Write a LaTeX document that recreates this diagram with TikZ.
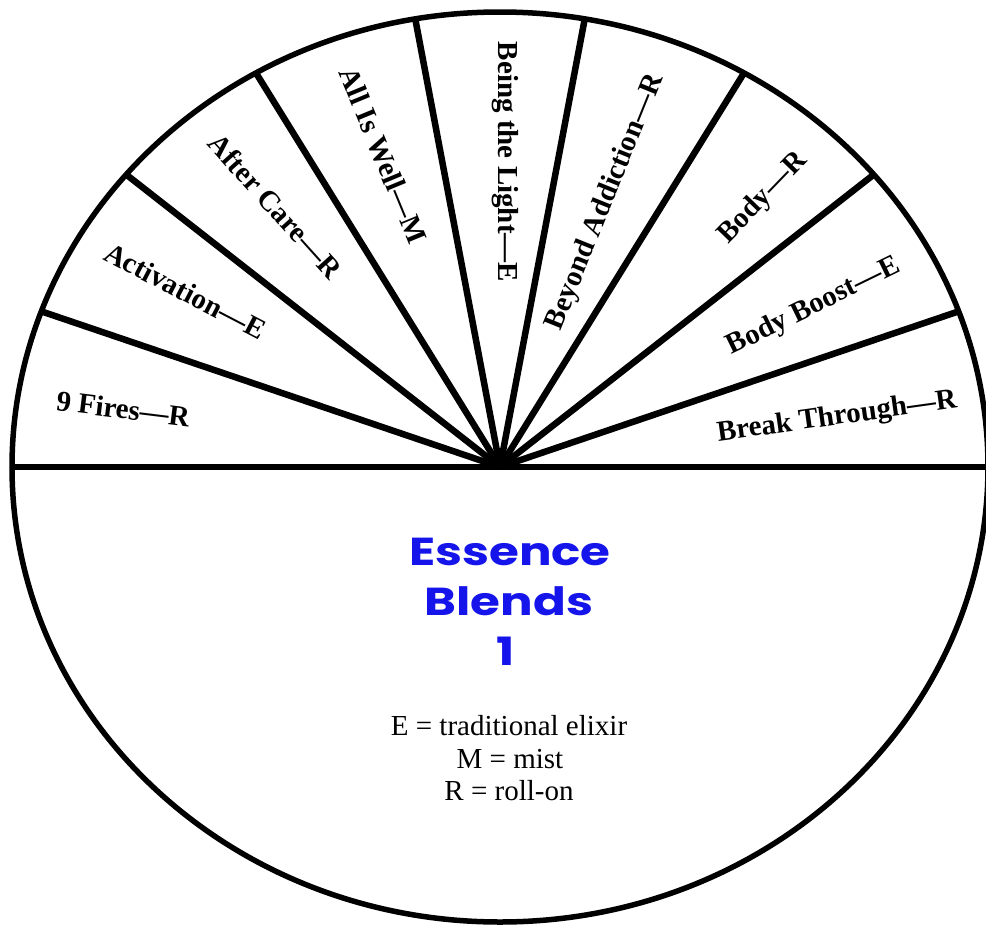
\documentclass[tikz,border=0pt]{standalone}
\usepackage{fontspec}
\setmainfont{Liberation Serif}
\newfontfamily\titlefont{Poppins}
\definecolor{titleblue}{RGB}{20,20,235}
\begin{document}
\begin{tikzpicture}[x=1pt,y=-1pt,
  rim/.style={line width=5.5pt},
  spoke/.style={line width=6.5pt},
  lbl/.style={font=\bfseries\fontsize{29}{33}\selectfont, anchor=base, inner sep=0pt},
  titletxt/.style={font=\titlefont\bfseries\fontsize{39}{50}\selectfont, text=titleblue, anchor=base, inner sep=0pt, xscale=1.24},
  legend/.style={font=\fontsize{29}{33}\selectfont, anchor=base, inner sep=0pt}]
\useasboundingbox (0,0) rectangle (986,926);
\fill[white] (0,0) rectangle (986,926);
\coordinate (O) at (500,467);
\coordinate (W) at (13,467);
\coordinate (E) at (989,467);
\foreach \i in {1,...,8}{
  \coordinate (s\i) at ({500+488*cos(20*\i)},{467-455*sin(20*\i)});
}
\draw[rim] (O) ellipse [x radius=488, y radius=455];
\draw[spoke] (W) -- (E);
\foreach \i in {1,...,8}{
  \draw[spoke] (O) -- (s\i);
}
\node[lbl, rotate=-7]    (l1) at (122,418.5) {9 Fires—R};
\node[lbl, rotate=-27.5] (l2) at (181,300)   {Activation—E};
\node[lbl, rotate=-48]   (l3) at (268,213)   {After Care—R};
\node[lbl, rotate=-67.6] (l4) at (374,159)   {All Is Well—M};
\node[lbl, rotate=-90]   (l5) at (498,162)   {Being the Light—E};
\node[lbl, rotate=68]    (l6) at (612,205)   {Beyond Addiction—R};
\node[lbl, rotate=46]    (l7) at (768,203)   {Body—R};
\node[lbl, rotate=26]    (l8) at (817,313)   {Body Boost—E};
\node[lbl, rotate=8]     (l9) at (838,424.5) {Break Through—R};
\node[titletxt] (t1) at (510,565) {Essence};
\node[titletxt] (t2) at (509,615) {Blends};
\node[titletxt] (t3) at (506,665) {1};
\node[legend] (k1) at (509,735) {E = traditional elixir};
\node[legend] (k2) at (510,768) {M = mist};
\node[legend] (k3) at (509,800) {R = roll-on};
\end{tikzpicture}
\end{document}
